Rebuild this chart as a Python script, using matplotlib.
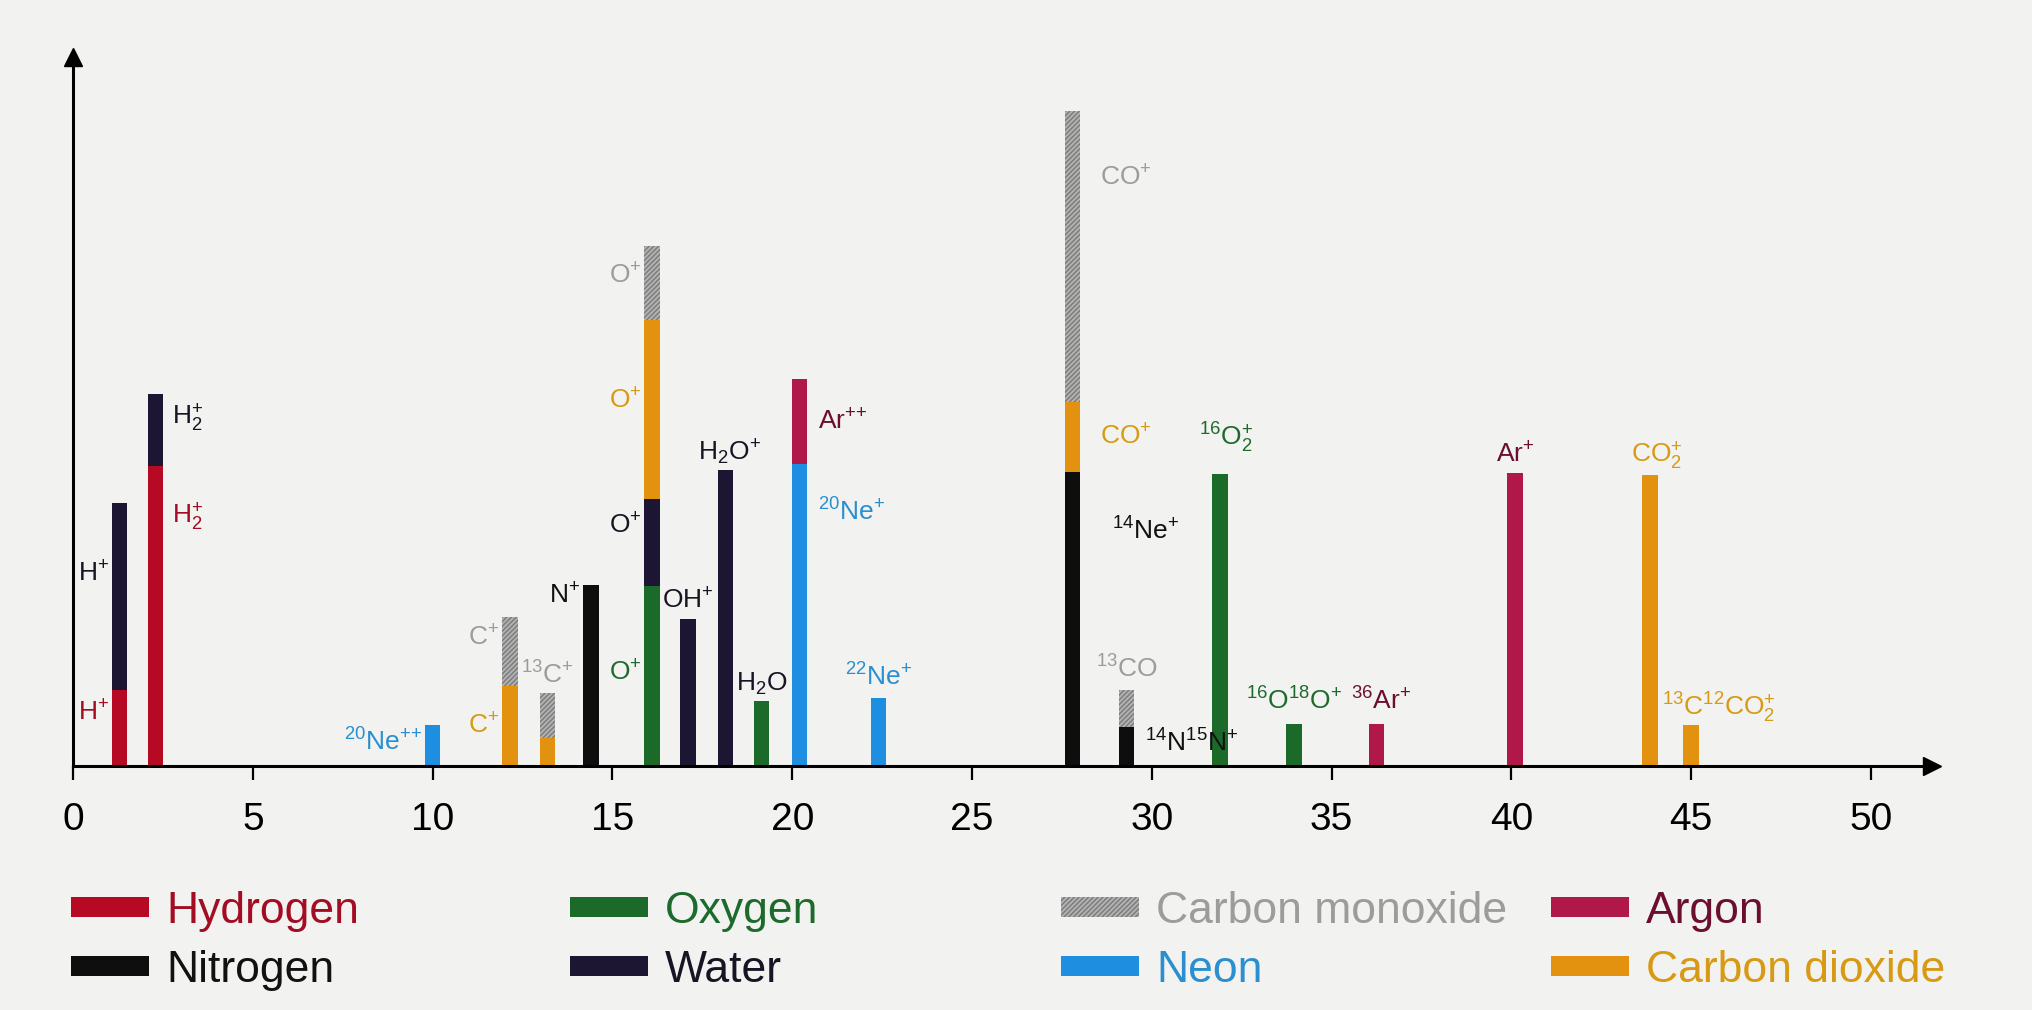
import matplotlib
matplotlib.use("Agg")
import matplotlib.pyplot as plt
from matplotlib.patches import Patch
import numpy as np

# ---------------- data ----------------
mass = [1.3, 2.3, 10.0, 12.15, 13.2, 14.4, 16.1, 17.1, 18.15, 19.15,
        20.2, 22.4, 27.8, 29.3, 31.9, 33.95, 36.25, 40.1, 43.85, 45.0]

hydrogen = [76, 300, 0, 0, 0, 0, 0, 0, 0, 0, 0, 0, 0, 0, 0, 0, 0, 0, 0, 0]
nitrogen = [0, 0, 0, 0, 0, 181, 0, 0, 0, 0, 0, 0, 294, 39, 0, 0, 0, 0, 0, 0]
oxygen = [0, 0, 0, 0, 0, 0, 180, 0, 0, 65, 0, 0, 0, 0, 292, 42, 0, 0, 0, 0]
neon = [0, 0, 41, 0, 0, 0, 0, 0, 0, 0, 302, 68, 0, 0, 0, 0, 0, 0, 0, 0]
water = [187, 72, 0, 0, 0, 0, 87, 147, 296, 0, 0, 0, 0, 0, 0, 0, 0, 0, 0, 0]
argon = [0, 0, 0, 0, 0, 0, 0, 0, 0, 0, 85, 0, 0, 0, 0, 0, 42, 293, 0, 0]
carbon_dioxide = [0, 0, 0, 80, 28, 0, 179, 0, 0, 0, 0, 0, 70, 0, 0, 0, 0, 0, 291, 41]
carbon_monoxide = [0, 0, 0, 69, 45, 0, 74, 0, 0, 0, 0, 0, 291, 37, 0, 0, 0, 0, 0, 0]

x_ticks = [0, 5, 10, 15, 20, 25, 30, 35, 40, 45, 50]

legend_names = {
    "hydrogen": "Hydrogen", "nitrogen": "Nitrogen", "oxygen": "Oxygen",
    "water": "Water", "co": "Carbon monoxide", "neon": "Neon",
    "argon": "Argon", "co2": "Carbon dioxide",
}

P = r"{+}"
PP = r"{+}{+}"
# (text, bar index, category segment, side, fraction of segment height, dx pt, dy pt)
labels = [
    (r"$\mathrm{H}^{" + P + "}$", 0, "water", "L", 0.62, -2, 0),
    (r"$\mathrm{H}^{" + P + "}$", 0, "hydrogen", "L", 0.70, -2, 0),
    (r"$\mathrm{H}_2^{" + P + "}$", 1, "water", "R", 0.67, 6, 0),
    (r"$\mathrm{H}_2^{" + P + "}$", 1, "hydrogen", "R", 0.83, 6, 0),
    (r"$^{20}\mathrm{Ne}^{" + PP + "}$", 2, "neon", "L", 0.59, -2, 0),
    (r"$\mathrm{C}^{" + P + "}$", 3, "co", "L", 0.70, -2, 0),
    (r"$\mathrm{C}^{" + P + "}$", 3, "co2", "L", 0.50, -2, 0),
    (r"$^{13}\mathrm{C}^{" + P + "}$", 4, "co", "T", 0, 0, 3),
    (r"$\mathrm{N}^{" + P + "}$", 5, "nitrogen", "L", 0.94, -2, 0),
    (r"$\mathrm{O}^{" + P + "}$", 6, "co", "L", 0.59, -2, 0),
    (r"$\mathrm{O}^{" + P + "}$", 6, "co2", "L", 0.55, -2, 0),
    (r"$\mathrm{O}^{" + P + "}$", 6, "water", "L", 0.69, -2, 0),
    (r"$\mathrm{O}^{" + P + "}$", 6, "oxygen", "L", 0.52, -2, 0),
    (r"$\mathrm{OH}^{" + P + "}$", 7, "water", "T", 0, 0, 4),
    (r"$\mathrm{H}_2\mathrm{O}^{" + P + "}$", 8, "water", "T", 0, 3, 2),
    (r"$\mathrm{H}_2\mathrm{O}$", 9, "water", "T", 0, 0, 3),
    (r"$\mathrm{Ar}^{" + PP + "}$", 10, "argon", "R", 0.50, 8, 0),
    (r"$^{20}\mathrm{Ne}^{" + P + "}$", 10, "neon", "R", 0.84, 8, 0),
    (r"$^{22}\mathrm{Ne}^{" + P + "}$", 11, "neon", "T", 0, 0, 5),
    (r"$\mathrm{CO}^{" + P + "}$", 12, "co", "R", 0.77, 14, 0),
    (r"$\mathrm{CO}^{" + P + "}$", 12, "co2", "R", 0.50, 14, 0),
    (r"$^{14}\mathrm{Ne}^{" + P + "}$", 12, "nitrogen", "R", 0.80, 23, 0),
    (r"$^{13}\mathrm{CO}$", 13, "co", "T", 0, 0, 5),
    (r"$^{14}\mathrm{N}^{15}\mathrm{N}^{" + P + "}$", 13, "nitrogen", "R", 0.60, 8, 0),
    (r"$^{16}\mathrm{O}_2^{" + P + "}$", 14, "oxygen", "T", 0, 4, 14),
    (r"$^{16}\mathrm{O}^{18}\mathrm{O}^{" + P + "}$", 15, "oxygen", "T", 0, 0, 7),
    (r"$^{36}\mathrm{Ar}^{" + P + "}$", 16, "argon", "T", 0, 3, 7),
    (r"$\mathrm{Ar}^{" + P + "}$", 17, "argon", "T", 0, 0, 4),
    (r"$\mathrm{CO}_2^{" + P + "}$", 18, "co2", "T", 0, 5, 2),
    (r"$^{13}\mathrm{C}^{12}\mathrm{CO}_2^{" + P + "}$", 19, "co2", "T", 0, 20, 0),
]

# ---------------- style ----------------
plt.rcParams["font.family"] = ["Liberation Sans", "DejaVu Sans"]
plt.rcParams["mathtext.fontset"] = "custom"
plt.rcParams["mathtext.rm"] = "Liberation Sans"
plt.rcParams["mathtext.it"] = "Liberation Sans"
plt.rcParams["mathtext.bf"] = "Liberation Sans:bold"
plt.rcParams["mathtext.default"] = "regular"
plt.rcParams["hatch.linewidth"] = 1.0

bar_color = {
    "hydrogen": "#b60a24", "nitrogen": "#0e0e0e", "oxygen": "#1b6a2a",
    "neon": "#1e8fe0", "water": "#1d1632", "argon": "#b0184a",
    "co2": "#e2920f", "co": "#b2b2b2",
}
text_color = {
    "hydrogen": "#a30d24", "nitrogen": "#111111", "oxygen": "#1d6b2c",
    "neon": "#2a8fd0", "water": "#181424", "argon": "#6b0f30",
    "co2": "#d89a14", "co": "#9c9c9c",
}
HATCH = "/" * 7
HATCH_EDGE = "#7a7a7a"

series = {
    "hydrogen": hydrogen, "nitrogen": nitrogen, "oxygen": oxygen, "neon": neon,
    "water": water, "argon": argon, "co2": carbon_dioxide, "co": carbon_monoxide,
}
stack_order = ["hydrogen", "nitrogen", "oxygen", "neon", "water", "argon", "co2", "co"]

BG = "#f2f2f0"
fig = plt.figure(figsize=(20.33, 10.10), dpi=100, facecolor=BG)
ax = fig.add_axes([0.0359, 0.2416, 0.9145, 0.702])
ax.set_facecolor(BG)

width = 0.43
x = np.array(mass)
bottom = np.zeros(len(mass))
seg_bottom = {}
for cat in stack_order:
    h = np.array(series[cat], dtype=float)
    seg_bottom[cat] = bottom.copy()
    kw = dict(color=bar_color[cat], linewidth=0, zorder=3)
    if cat == "co":
        kw.update(edgecolor=HATCH_EDGE, hatch=HATCH)
    ax.bar(x, h, width=width, bottom=bottom, **kw)
    bottom = bottom + h
totals = bottom

ax.set_xlim(0, 51.7)
ax.set_ylim(0, 709)

# axes as arrows
for s in ["top", "right"]:
    ax.spines[s].set_visible(False)
ax.spines["bottom"].set_linewidth(2.2)
ax.spines["left"].set_linewidth(2.2)
ax.spines["bottom"].set_zorder(4)
ax.plot([1], [0], marker=">", ms=13, color="black", transform=ax.transAxes, clip_on=False, zorder=5)
ax.plot([0], [1], marker="^", ms=13, color="black", transform=ax.transAxes, clip_on=False, zorder=5)

ax.set_yticks([])
ax.set_xticks(x_ticks)
ax.set_xticklabels([str(t) for t in x_ticks], fontsize=28)
ax.tick_params(axis="x", direction="out", length=10, width=1.6, pad=16, colors="black")

LBL = 19
for text, i, cat, side, frac, dx, dy in labels:
    col = text_color[cat]
    if side == "T":
        ax.annotate(text, (x[i], totals[i]), xytext=(dx, dy), textcoords="offset points",
                    ha="center", va="bottom", fontsize=LBL, color=col, zorder=6)
    else:
        y = seg_bottom[cat][i] + frac * series[cat][i]
        xe = x[i] - width / 2 if side == "L" else x[i] + width / 2
        ax.annotate(text, (xe, y), xytext=(dx, dy), textcoords="offset points",
                    ha="right" if side == "L" else "left", va="center",
                    fontsize=LBL, color=col, zorder=6)

# legend: four columns of two rows
columns = [["hydrogen", "nitrogen"], ["oxygen", "water"], ["co", "neon"], ["argon", "co2"]]
col_x = [0.0349, 0.2804, 0.5219, 0.7629]
LFS = 32
for cx, cats in zip(col_x, columns):
    handles = []
    for c in cats:
        if c == "co":
            handles.append(Patch(facecolor=bar_color[c], edgecolor=HATCH_EDGE, hatch=HATCH, linewidth=0))
        else:
            handles.append(Patch(facecolor=bar_color[c], linewidth=0))
    fig.legend(handles=handles, labels=[legend_names[c] for c in cats],
               loc="center left", bbox_to_anchor=(cx, 0.0684), frameon=False,
               prop={"size": LFS},
               labelcolor=[text_color[c] for c in cats],
               handlelength=1.76, handleheight=0.32, handletextpad=0.38,
               labelspacing=0.4, borderpad=0, borderaxespad=0)

fig.savefig("out.png", dpi=100, facecolor=BG)
